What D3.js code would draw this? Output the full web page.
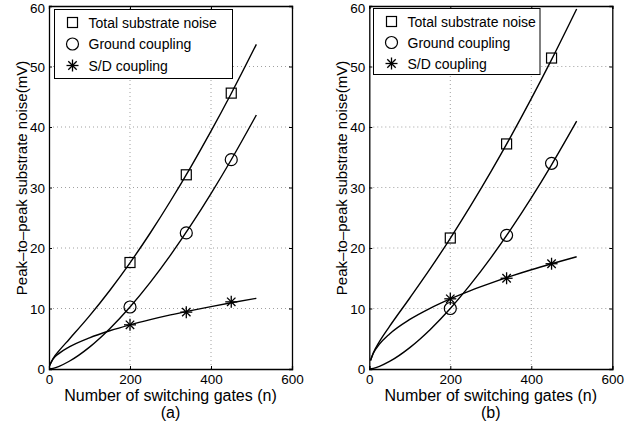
<!DOCTYPE html>
<html>
<head>
<meta charset="utf-8">
<script src="https://cdn.jsdelivr.net/npm/d3@7"></script>
<style>
  body { margin: 0; background: #fff; }
  text { font-family: "Liberation Sans", Arial, sans-serif; fill: #000; }
</style>
</head>
<body>
<svg id="chart" width="625" height="427"></svg>
<script>
// x ticks / y ticks
var xTicks = [0, 200, 400, 600];
var yTicks = [0, 10, 20, 30, 40, 50, 60];
var seriesNames = ["Total substrate noise", "Ground coupling", "S/D coupling"];

// measured points (n, mV)
var pointN = [200, 339, 450];
var totalA = [17.6, 32.1, 45.6];
var groundA = [10.25, 22.5, 34.6];
var sdA = [7.3, 9.4, 11.1];
var totalB = [21.65, 37.2, 51.4];
var groundB = [10.0, 22.1, 34.0];
var sdB = [11.6, 15.0, 17.4];

// fitted curves
var curveNA = [1, 10, 25, 50, 100, 150, 200, 250, 300, 350, 400, 450, 512];
var curveNGround = [0, 10, 25, 50, 100, 150, 200, 250, 300, 350, 400, 450, 512];
var curveNB = [3, 10, 25, 50, 100, 150, 200, 250, 300, 350, 400, 450, 512];
var totalFitA = [0.52, 1.74, 3.03, 4.93, 8.78, 12.98, 17.55, 22.48, 27.77, 33.38, 39.31, 45.54, 53.66];
var groundFitA = [0, 0.11, 0.45, 1.28, 3.62, 6.66, 10.25, 14.32, 18.83, 23.73, 28.99, 34.59, 41.98];
var sdFitA = [0.52, 1.63, 2.58, 3.65, 5.16, 6.32, 7.30, 8.16, 8.94, 9.65, 10.32, 10.95, 11.68];
var totalFitB = [1.42, 2.70, 4.54, 7.05, 11.74, 16.54, 21.60, 26.95, 32.57, 38.49, 44.68, 51.14, 59.51];
var groundFitB = [0, 0.11, 0.44, 1.25, 3.54, 6.50, 10.0, 13.98, 18.37, 23.15, 28.28, 33.75, 40.96];
var sdFitB = [1.42, 2.59, 4.10, 5.80, 8.20, 10.04, 11.60, 12.97, 14.20, 15.34, 16.40, 17.39, 18.55];

var svg = d3.select("#chart");

function zip(xs, ys) { return xs.map((x, i) => [x, ys[i]]); }

function marker(g, type, cx, cy) {
    if (type === 0) {
        g.append("rect").attr("x", cx - 5).attr("y", cy - 5).attr("width", 10).attr("height", 10)
            .attr("fill", "none").attr("stroke", "#000").attr("stroke-width", 1.2);
    } else if (type === 1) {
        g.append("circle").attr("cx", cx).attr("cy", cy).attr("r", 6)
            .attr("fill", "none").attr("stroke", "#000").attr("stroke-width", 1.2);
    } else {
        var r = 6;
        [[-r, 0, r, 0], [0, -r, 0, r], [-r * 0.7, -r * 0.7, r * 0.7, r * 0.7], [-r * 0.7, r * 0.7, r * 0.7, -r * 0.7]].forEach(function (s) {
            g.append("line").attr("x1", cx + s[0]).attr("y1", cy + s[1]).attr("x2", cx + s[2]).attr("y2", cy + s[3])
                .attr("stroke", "#000").attr("stroke-width", 1.3);
        });
    }
}

function panel(opt) {
    var x = d3.scaleLinear().domain([0, 600]).range([opt.left, opt.left + 243]);
    var y = d3.scaleLinear().domain([0, 60]).range([369, 6]);
    var g = svg.append("g");
    var clipId = "clip" + opt.id;
    g.append("clipPath").attr("id", clipId).append("rect")
        .attr("x", x(0)).attr("y", y(60)).attr("width", x(600) - x(0)).attr("height", y(0) - y(60));

    // grid
    g.selectAll(".gx").data(xTicks.slice(1, -1)).enter().append("line")
        .attr("x1", d => x(d)).attr("x2", d => x(d)).attr("y1", y(0)).attr("y2", y(60))
        .attr("stroke", "#888").attr("stroke-width", 0.8).attr("stroke-dasharray", "1,3");
    g.selectAll(".gy").data(yTicks.slice(1, -1)).enter().append("line")
        .attr("x1", x(0)).attr("x2", x(600)).attr("y1", d => y(d)).attr("y2", d => y(d))
        .attr("stroke", "#888").attr("stroke-width", 0.8).attr("stroke-dasharray", "1,3");

    // curves
    var line = d3.line().x(d => x(d[0])).y(d => y(d[1])).curve(d3.curveMonotoneX);
    var cg = g.append("g").attr("clip-path", "url(#" + clipId + ")");
    opt.fits.forEach(function (f) {
        cg.append("path").datum(zip(f[0], f[1])).attr("d", line)
            .attr("fill", "none").attr("stroke", "#000").attr("stroke-width", 1.4);
    });

    // markers
    opt.points.forEach(function (p, k) {
        pointN.forEach(function (n, i) { marker(g, k, x(n), y(p[i])); });
    });

    // axes box and ticks
    var xb = d3.axisBottom(x).tickValues(xTicks).tickSize(-3).tickPadding(5);
    var yl = d3.axisLeft(y).tickValues(yTicks).tickSize(-3).tickPadding(4);
    var ax = g.append("g").attr("transform", "translate(0," + y(0) + ")").call(xb);
    var ay = g.append("g").attr("transform", "translate(" + x(0) + ",0)").call(yl);
    g.append("g").attr("transform", "translate(0," + y(60) + ")")
        .call(d3.axisTop(x).tickValues(xTicks).tickSize(-3).tickFormat(""));
    g.append("g").attr("transform", "translate(" + x(600) + ",0)")
        .call(d3.axisRight(y).tickValues(yTicks).tickSize(-3).tickFormat(""));
    g.selectAll(".domain").attr("stroke", "#000").attr("stroke-width", 1.3);
    g.selectAll(".tick line").attr("stroke", "#000");
    g.selectAll(".tick text").attr("font-size", "13.5px").style("font-family", "Liberation Sans, Arial, sans-serif");
    ax.selectAll(".tick text").attr("dy", "0.71em");
    ay.selectAll(".tick text").attr("dy", d => d === 60 ? "0.5em" : "0.35em");

    // labels
    g.append("text").attr("x", (x(0) + x(600)) / 2).attr("y", 401).attr("text-anchor", "middle")
        .attr("font-size", "16px").text("Number of switching gates (n)");
    g.append("text").attr("x", (x(0) + x(600)) / 2).attr("y", 418).attr("text-anchor", "middle")
        .attr("font-size", "16px").text(opt.tag);
    g.append("text").attr("transform", "translate(" + (opt.left - 22) + ",178) rotate(-90)")
        .attr("text-anchor", "middle").attr("font-size", "15px").text("Peak\u2013to\u2013peak substrate noise(mV)");

    // legend
    var lg = g.append("g");
    lg.append("rect").attr("x", opt.legend[0]).attr("y", opt.legend[1]).attr("width", opt.legend[2]).attr("height", opt.legend[3])
        .attr("fill", "#fff").attr("stroke", "#000").attr("stroke-width", 1);
    seriesNames.forEach(function (s, i) {
        var ry = opt.legend[1] + 13 + i * opt.legend[4];
        marker(lg, i, opt.legend[0] + 18, ry);
        lg.append("text").attr("x", opt.legend[0] + 34).attr("y", ry).attr("dy", "0.36em")
            .attr("font-size", "14px").text(s);
    });
}

panel({
    id: "a", tag: "(a)", left: 49,
    points: [totalA, groundA, sdA],
    fits: [[curveNA, totalFitA], [curveNGround, groundFitA], [curveNA, sdFitA]],
    legend: [54.5, 9.5, 178, 69, 21.5]
});
panel({
    id: "b", tag: "(b)", left: 369.3,
    points: [totalB, groundB, sdB],
    fits: [[curveNB, totalFitB], [curveNGround, groundFitB], [curveNB, sdFitB]],
    legend: [373.5, 8.5, 166.5, 66, 21]
});
</script>
</body>
</html>
